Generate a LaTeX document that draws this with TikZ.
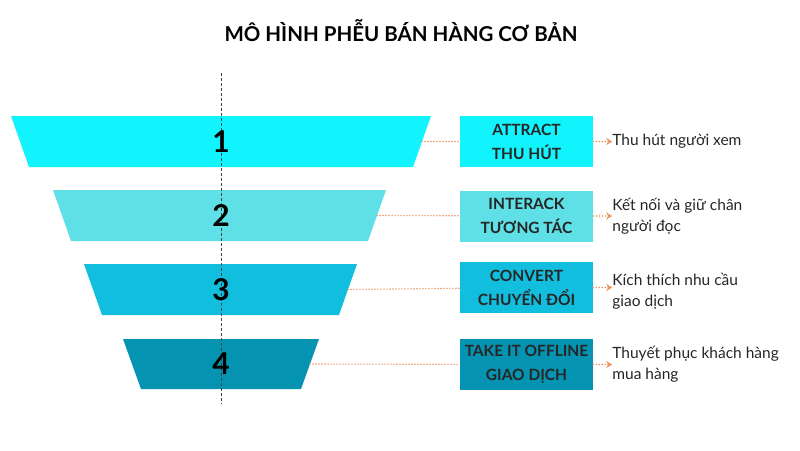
\documentclass[tikz,border=0pt]{standalone}
\usepackage{fontspec}
\setmainfont{Lato}
\usetikzlibrary{arrows,arrows.meta,positioning}
\definecolor{tierA}{RGB}{18,244,253}
\definecolor{tierB}{RGB}{94,224,230}
\definecolor{tierC}{RGB}{18,190,221}
\definecolor{tierD}{RGB}{4,148,178}
\definecolor{dotorange}{RGB}{234,150,100}
\tikzset{
    %Define standard arrow tip
    >={Stealth[length=6pt,width=7pt]},
    %Define style for stage boxes
    stagebox/.style={
           rectangle,
           minimum width=133pt,
           minimum height=51pt,
           inner sep=0pt,
           align=center,
           font=\fontsize{15.5}{24}\selectfont\bfseries,
           text=black!85},
    % Define style for descriptions
    desc/.style={
           align=left,
           inner sep=0pt,
           font=\fontsize{15.5}{21}\selectfont,
           text=black!85},
    num/.style={font=\fontsize{30}{30}\selectfont\bfseries},
    % Define connector styles
    link/.style={
           -,
           dotorange, line width=1.6pt, line cap=round,
           dash pattern=on 0pt off 3pt},
    pil/.style={
           ->,
           dotorange, line width=1.6pt, line cap=round,
           dash pattern=on 0pt off 3pt},
    axis/.style={
           black!75, line width=0.9pt,
           dash pattern=on 3pt off 2pt}
}
\begin{document}
\begin{tikzpicture}[x=1pt,y=-1pt]
\useasboundingbox (0,0) rectangle (800,450);
\node[font=\fontsize{20.5}{20}\selectfont\bfseries] (title) at (401,31) {MÔ HÌNH PHỄU BÁN HÀNG CƠ BẢN};

% funnel layers
\fill[tierA] (11,116) -- (431,116) -- (413,167) -- (29,167) -- cycle;
\fill[tierB] (53,190) -- (386,190) -- (368,241) -- (71,241) -- cycle;
\fill[tierC] (84,264) -- (357,264) -- (339,315) -- (102,315) -- cycle;
\fill[tierD] (123,339) -- (319,339) -- (301,389) -- (141,389) -- cycle;
\coordinate (e1) at (422,141.5);
\coordinate (e2) at (377,215.5);
\coordinate (e3) at (348,289.5);
\coordinate (e4) at (310,364);

\coordinate (ax1) at (221,73);
\coordinate (ax2) at (221,404);
\draw[axis] (ax1) -- (ax2);

\node[num](n1) at (221,141.5) {1};
\node[num](n2) at (221,215.5) {2};
\node[num](n3) at (221,289.5) {3};
\node[num](n4) at (221,364) {4};

\node[stagebox, fill=tierA](b1) at (526.5,141.5){ATTRACT\\THU HÚT};
\node[stagebox, fill=tierB](b2) at (526.5,216){INTERACK\\TƯƠNG TÁC};
\node[stagebox, fill=tierC](b3) at (526.5,287.5){CONVERT\\CHUYỂN ĐỔI};
\node[stagebox, fill=tierD](b4) at (526.5,364.5){TAKE IT OFFLINE\\GIAO DỊCH};

\node[desc, right=19pt of b1](d1){Thu hút người xem};
\node[desc, right=19pt of b2](d2){Kết nối và giữ chân\\người đọc};
\node[desc, right=19pt of b3, yshift=-4pt](d3){Kích thích nhu cầu\\giao dịch};
\node[desc, right=19pt of b4](d4){Thuyết phục khách hàng\\mua hàng};

\path (e1) edge[link] (b1)
      (e2) edge[link] (b2)
      (e3) edge[link] (b3)
      (e4) edge[link] (b4);
\path (b1) edge[pil] (d1.west|-b1)
      (b2) edge[pil] (d2.west|-b2)
      (b3) edge[pil] (d3.west|-b3)
      (b4) edge[pil] (d4.west|-b4);
\end{tikzpicture}
\end{document}
